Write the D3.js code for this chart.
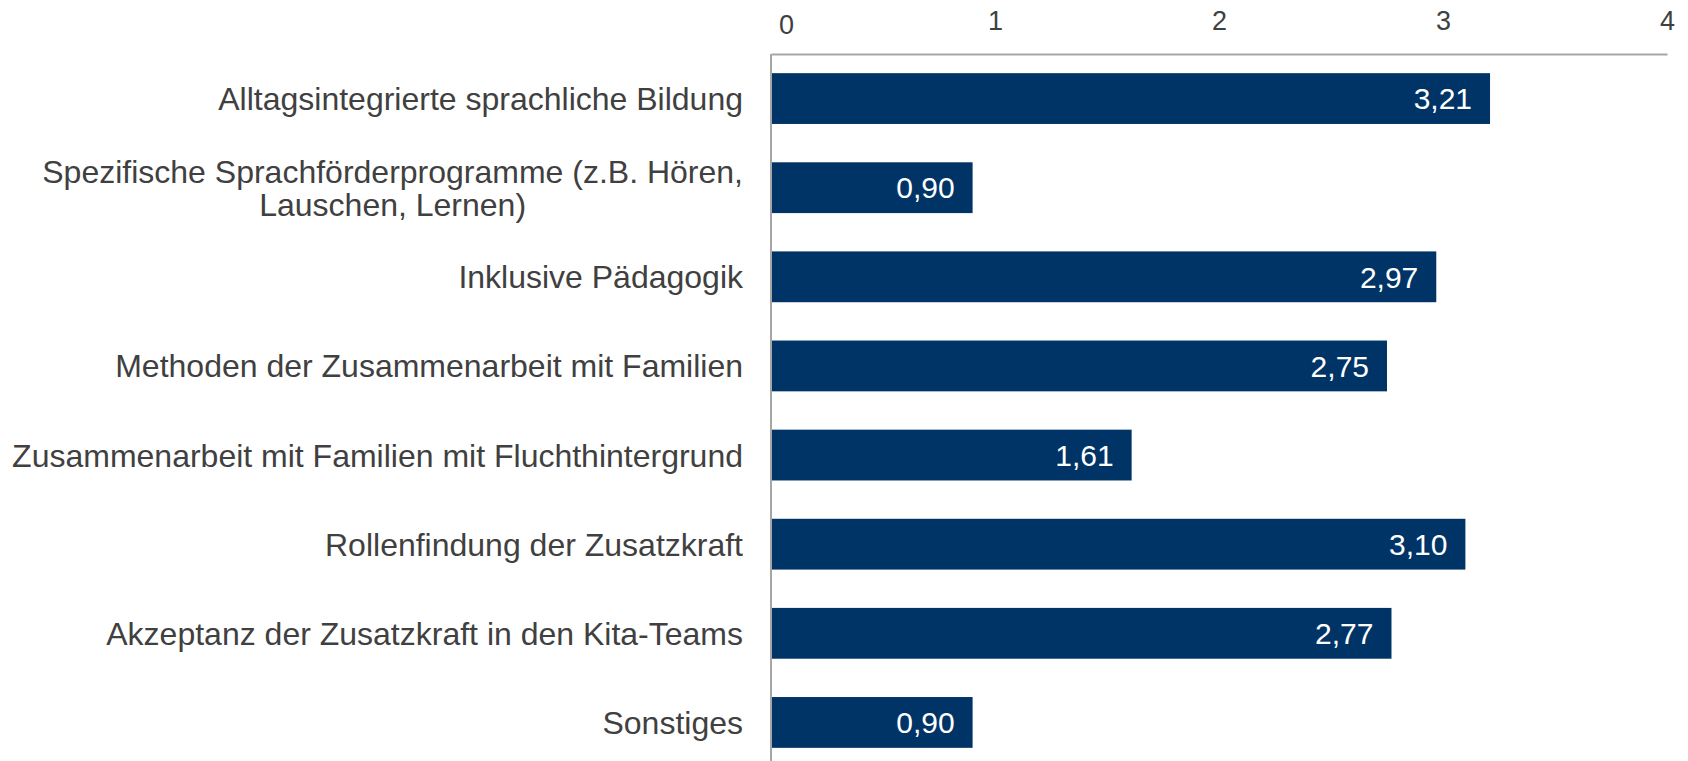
<!DOCTYPE html>
<html>
<head>
<meta charset="utf-8">
<script src="https://cdn.jsdelivr.net/npm/d3@7"></script>
<style>
  body { margin: 0; background: #fff; }
  text { font-family: "Liberation Sans", Arial, sans-serif; }
</style>
</head>
<body>
<svg id="chart" width="1688" height="761"></svg>
<script>
const categories = [
  ['Alltagsintegrierte sprachliche Bildung'],
  ['Spezifische Sprachförderprogramme (z.B. Hören,', 'Lauschen, Lernen)'],
  ['Inklusive Pädagogik'],
  ['Methoden der Zusammenarbeit mit Familien'],
  ['Zusammenarbeit mit Familien mit Fluchthintergrund'],
  ['Rollenfindung der Zusatzkraft'],
  ['Akzeptanz der Zusatzkraft in den Kita-Teams'],
  ['Sonstiges']
];
const values = [3.21, 0.90, 2.97, 2.75, 1.61, 3.10, 2.77, 0.90];
const ticks = [0, 1, 2, 3, 4];

const svg = d3.select('#chart');
const margin = { top: 54, left: 771, right: 21, bottom: -6 };
const width = +svg.attr('width');
const height = +svg.attr('height');

const x = d3.scaleLinear()
  .domain([0, 4])
  .range([margin.left, width - margin.right]);

const y = d3.scaleBand()
  .domain(d3.range(categories.length))
  .range([margin.top, height - margin.bottom])
  .paddingInner(0.43)
  .paddingOuter(0.215);

// top axis: line + labels, no tick marks
const xAxis = svg.append('g')
  .attr('transform', `translate(0,${margin.top})`)
  .call(d3.axisTop(x).tickValues(ticks).tickSize(0).tickPadding(24).tickFormat(d3.format('d')));
xAxis.select('.domain').attr('stroke', '#a6a6a6').attr('stroke-width', 2);
xAxis.selectAll('text')
  .attr('fill', '#404040')
  .style('font-size', '27px')
  .attr('dx', d => d === 0 ? 15 : 0)
  .attr('dy', d => d === 0 ? 4 : 0);

// bars
svg.append('g')
  .selectAll('rect')
  .data(values)
  .join('rect')
  .attr('x', x(0))
  .attr('y', (d, i) => y(i))
  .attr('width', d => x(d) - x(0))
  .attr('height', y.bandwidth())
  .attr('fill', '#003466');

// value labels
svg.append('g')
  .selectAll('text')
  .data(values)
  .join('text')
  .attr('x', d => x(d) - 18)
  .attr('y', (d, i) => y(i) + y.bandwidth() / 2)
  .attr('dy', '0.36em')
  .attr('text-anchor', 'end')
  .attr('fill', '#fff')
  .style('font-size', '30px')
  .text(d => d3.format('.2f')(d).replace('.', ','));

// category labels (multi-line ones centred on their longest line)
const lineH = 33;
const labelRight = x(0) - 28;
svg.append('g')
  .selectAll('text')
  .data(categories)
  .join('text')
  .attr('y', (d, i) => y(i) + y.bandwidth() / 2 - (d.length - 1) * lineH / 2)
  .attr('text-anchor', 'end')
  .attr('fill', '#404040')
  .style('font-size', '32px')
  .each(function (d) {
    const spans = d3.select(this).selectAll('tspan')
      .data(d)
      .join('tspan')
      .attr('x', labelRight)
      .attr('dy', (t, j) => j === 0 ? '0.36em' : lineH)
      .text(t => t);
    const widths = spans.nodes().map(n => n.getComputedTextLength());
    const maxW = d3.max(widths);
    spans.attr('x', (t, j) => labelRight - (maxW - widths[j]) / 2);
  });

// y axis line
svg.append('line')
  .attr('x1', x(0)).attr('x2', x(0))
  .attr('y1', margin.top).attr('y2', height)
  .attr('stroke', '#a6a6a6')
  .attr('stroke-width', 2);
</script>
</body>
</html>
